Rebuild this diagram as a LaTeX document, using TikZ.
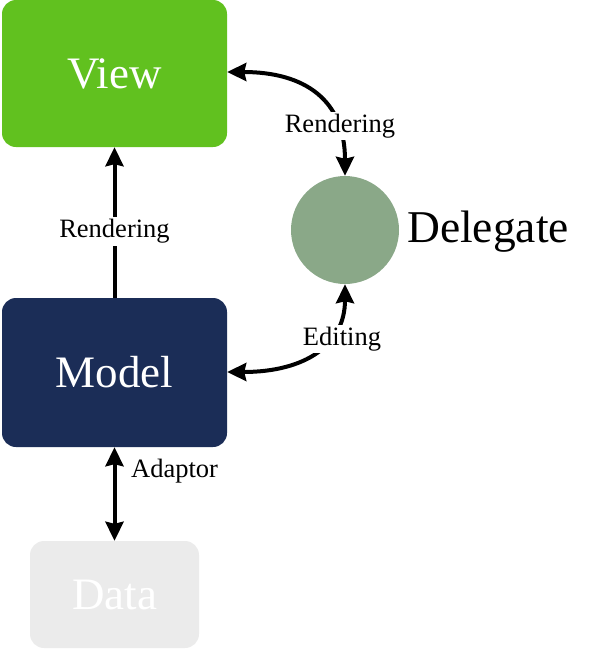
\documentclass[tikz,border=0pt]{standalone}
\usepackage{fontspec}
\setmainfont{Liberation Serif}
\usetikzlibrary{arrows.meta}
\definecolor{viewgreen}{HTML}{61C11F}
\definecolor{modelblue}{HTML}{1B2D57}
\definecolor{datagray}{HTML}{EBEBEB}
\definecolor{delgreen}{HTML}{8AA888}
\tikzset{
  box/.style={rounded corners=14pt, inner sep=0pt, text=white, font=\fontsize{45}{48}\selectfont},
  conn/.style={line width=4pt, {Stealth[length=19pt,width=18pt,inset=2pt]}-{Stealth[length=19pt,width=18pt,inset=2pt]}},
  oneway/.style={line width=4pt, -{Stealth[length=19pt,width=18pt,inset=2pt]}},
  lab/.style={fill=white, inner sep=2pt, font=\fontsize{26.5}{28}\selectfont},
}
\begin{document}
\begin{tikzpicture}[x=1pt,y=-1pt]
\useasboundingbox (0,0) rectangle (602,651);
\node[box, fill=viewgreen, minimum width=225pt, minimum height=147pt] (view) at (114.5,73.5) {View};
\node[box, fill=modelblue, minimum width=225pt, minimum height=149pt] (model) at (114.5,372.5) {Model};
\node[box, fill=datagray, minimum width=169pt, minimum height=107pt] (data) at (114.5,594.5) {Data};
\node[circle, fill=delgreen, minimum size=108pt, inner sep=0pt] (del) at (345,230) {};
\node[anchor=west, inner sep=0pt, font=\fontsize{45.5}{48}\selectfont] (dellab) at (407,232) {Delegate};
\draw[oneway] (model.north) -- node[lab, pos=0.44] {Rendering} (view.south);
\draw[conn] (view.east |- 0,72) .. controls (305,72) and (345,100) .. (del.north);
\node[lab] (rendlab) at (340,126) {Rendering};
\draw[conn] (del.south) .. controls (345,345) and (305,372) .. (model.east |- 0,372);
\node[lab] (editlab) at (342,339) {Editing};
\draw[conn] (model.south) -- (data.north);
\node[anchor=west, inner sep=0pt, font=\fontsize{26.5}{28}\selectfont] (adlab) at (131,471) {Adaptor};
\end{tikzpicture}
\end{document}
